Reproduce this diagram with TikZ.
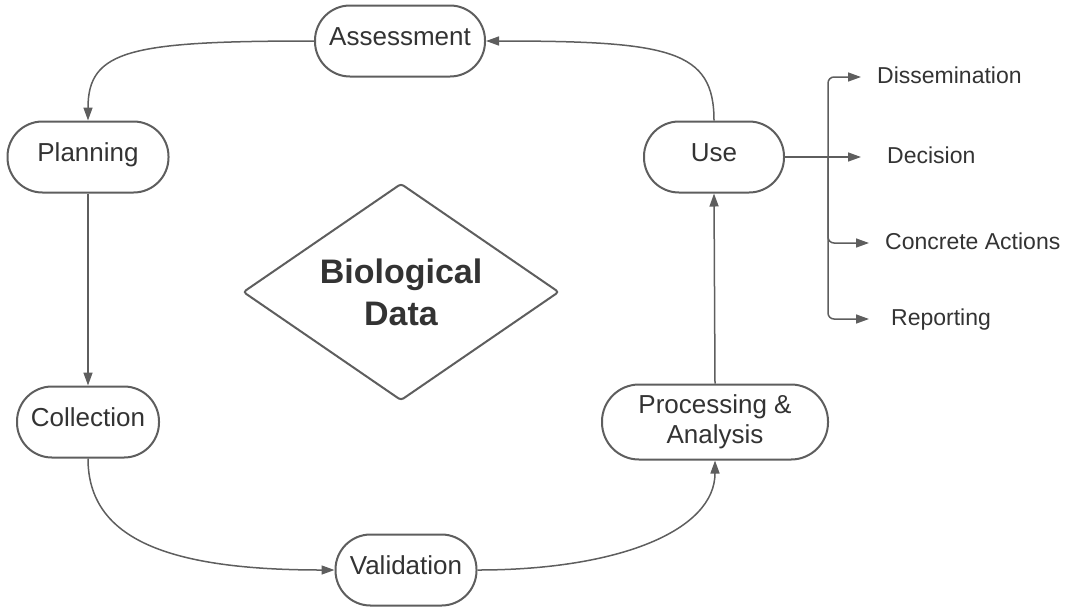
\documentclass[tikz,border=0pt]{standalone}
\usepackage{fontspec}
\setmainfont{Liberation Sans}
\usetikzlibrary{shapes.geometric,arrows.meta}
\definecolor{ln}{HTML}{5E5E5E}
\definecolor{tx}{HTML}{333333}
\begin{document}
\begin{tikzpicture}[x=1pt,y=-1pt,
  pill/.style={draw=ln,line width=2pt,rounded corners=35pt,minimum height=71pt,inner sep=0pt,
    text=tx,font=\fontsize{26}{30}\selectfont,align=center,fill=white},
  onel/.style={text height=19pt,text depth=10pt},
  conn/.style={draw=ln,line width=1.5pt,-{Triangle[length=13pt,width=9pt]}},
  lab/.style={anchor=west,inner sep=0pt,text=tx,font=\fontsize{23}{27}\selectfont,
    text height=16.5pt,text depth=4.5pt}]
\useasboundingbox (0,0) rectangle (1067,606);
% nodes
\node[pill,onel,minimum width=170] (ass) at (400,41) {Assessment};
\node[pill,onel,minimum width=161] (plan) at (88,157) {Planning};
\node[pill,onel,minimum width=142] (coll) at (88,422) {Collection};
\node[pill,onel,minimum width=141] (val) at (406,570) {Validation};
\node[pill,minimum width=226,minimum height=75,rounded corners=37] (proc) at (715,422) {Processing \&\\Analysis};
\node[pill,onel,minimum width=140] (use) at (714,157) {Use};
\node[draw=ln,line width=2pt,diamond,minimum width=316,minimum height=217,aspect=1.456,
  rounded corners=3,text=tx,font=\bfseries\fontsize{34}{42}\selectfont,align=center,inner sep=0pt]
  (bio) at (401,292) {Biological\\Data};
% output labels
\node[lab] (diss) at (877,77) {Dissemination};
\node[lab] (dec) at (887,157) {Decision};
\node[lab] (conc) at (885,243) {Concrete Actions};
\node[lab] (rep) at (891,319) {Reporting};
% cycle connectors
\draw[conn] (ass.west) .. controls (130,41) and (88,50) .. (plan.north);
\draw[conn] (plan.south) -- (coll.north);
\draw[conn] (coll.south) .. controls (88,540) and (170,570) .. (val.west);
\draw[conn] (val.east) .. controls (620,570) and (715,530) .. (proc.south);
\draw[conn] (proc.north) -- (use.south);
\draw[conn] (use.north) .. controls (714,50) and (670,41) .. (ass.east);
% outputs
\coordinate (br) at (828,157);
\draw[conn] (use.east) -- ([xshift=-26pt]dec.west);
\draw[conn,rounded corners=6pt] (br) |- ([xshift=-16pt]diss.west);
\draw[conn,rounded corners=6pt] (br) |- ([xshift=-16pt]conc.west);
\draw[conn,rounded corners=6pt] (br) |- ([xshift=-22pt]rep.west);
\end{tikzpicture}
\end{document}
